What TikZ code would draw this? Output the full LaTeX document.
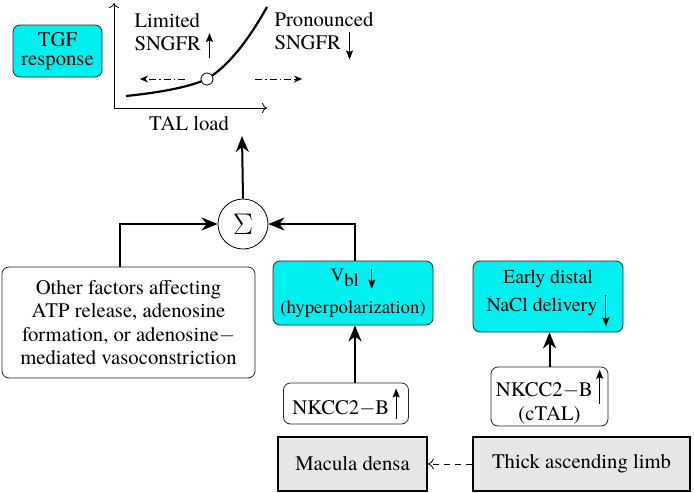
\documentclass[tikz,border=0pt]{standalone}
\usepackage{fontspec}
\usepackage{graphicx}
\IfFontExistsTF{texgyretermes-regular.otf}{\setmainfont{texgyretermes}[Extension=.otf,UprightFont=*-regular,BoldFont=*-bold,ItalicFont=*-italic,BoldItalicFont=*-bolditalic]}{}
\IfFontExistsTF{texgyretermes-math.otf}{\newfontfamily\sigmafont{texgyretermes-math.otf}\newcommand{\sumsign}{{\sigmafont Σ}}}{\newcommand{\sumsign}{\scalebox{1.2}{$\Sigma$}}}
\usetikzlibrary{arrows.meta}
\definecolor{cyanbox}{RGB}{0,240,240}
\definecolor{grayfill}{RGB}{230,230,230}
\newcommand{\garr}[2]{\tikz[baseline=0pt]\draw[line width=1pt,-{Stealth[length=9pt,width=7pt,inset=1.5pt]}] (0pt,#1) -- (0pt,#2);}
\newcommand{\mns}{\ensuremath{-}}
\begin{document}
\begin{tikzpicture}[x=1pt,y=-1pt,
  txt/.style={font=\fontsize{20.7}{23.3}\selectfont},
  stxt/.style={font=\fontsize{18.8}{23}\selectfont},
  etxt/.style={font=\fontsize{19.8}{23}\selectfont},
  cbox/.style={draw=black!85, line width=0.8pt, rounded corners=7pt, fill=cyanbox, align=center, inner sep=0pt},
  wbox/.style={txt, draw=black!85, line width=0.8pt, rounded corners=7pt, fill=white, align=center, inner sep=0pt},
  gbox/.style={txt, draw=black, line width=1.8pt, fill=grayfill, align=center, inner sep=0pt},
  conn/.style={line width=2pt, -{Stealth[length=16pt,width=13pt,inset=5pt]}},
  axis/.style={line width=0.8pt, -{To[length=5pt,width=10pt]}},
  dd/.style={line width=0.8pt, dash pattern=on 7pt off 3pt on 1.5pt off 3pt, -{Stealth[length=8pt,width=7pt]}},
]
\useasboundingbox (0,0) rectangle (694,493);

% TGF box
\node[cbox, txt, minimum width=89pt, minimum height=52pt] (tgf) at (57.5,51) {TGF\\[-4pt]response};

% graph
\coordinate (o) at (114,108);
\coordinate (ytop) at (114,3);
\coordinate (xend) at (267,108);
\draw[axis] (o) -- (ytop);
\draw[axis] (o) -- (xend);
\coordinate (c0) at (126,96);
\coordinate (c1) at (207,79);
\coordinate (c2) at (267,7);
\draw[line width=2.2pt] (c0) .. controls (165,92) and (192,86) .. (c1) .. controls (232,64) and (253,32) .. (c2);
\node[circle, draw, fill=white, minimum size=12pt, inner sep=0pt, line width=0.8pt] (pt) at (c1) {};
\coordinate (la) at (185,79);
\coordinate (lb) at (140,79);
\coordinate (ra) at (255,79);
\coordinate (rb) at (302,79);
\draw[dd] (la) -- (lb);
\draw[dd] (ra) -- (rb);
\node[txt, align=left, anchor=west] (lim) at (131,36) {Limited\\SNGFR \garr{-7pt}{18pt}};
\node[txt, align=left, anchor=west] (pro) at (271,36) {Pronounced\\SNGFR \garr{17pt}{-10pt}};
\node[txt] (talload) at (189,124) {TAL load};

% sum
\node[circle, draw, line width=0.8pt, minimum size=50pt, inner sep=0pt, font=\fontsize{30}{30}\selectfont] (sigma) at (243,224) {\sumsign};
\coordinate (gtip) at (242,136);

% boxes
\node[wbox, minimum width=253pt, minimum height=111pt] (other) at (128.5,322.5)
  {Other factors affecting\\ATP release, adenosine\\formation, or adenosine\mns\\mediated vasoconstriction};
\node[cbox, stxt, minimum width=160pt, minimum height=64pt] (vbl) at (353,293)
  {V\raisebox{-5pt}{bl}\ \ \garr{13pt}{-7pt}\\[9pt](hyperpolarization)};
\node[cbox, etxt, minimum width=150pt, minimum height=71pt] (early) at (548,296.5)
  {\rule{0pt}{17pt}Early distal\\[5pt]NaCl delivery \garr{16pt}{-15pt}};
\node[wbox, minimum width=117pt, minimum height=59pt] (nk2) at (549.5,396.5)
  {NKCC2\mns B\,\garr{-7pt}{27pt}\\(cTAL)};
\node[wbox, minimum width=125pt, minimum height=41pt] (nk1) at (346,403.5)
  {NKCC2\mns B\,\garr{-4pt}{26pt}};
\node[gbox, minimum width=149pt, minimum height=54pt] (md) at (352.5,464) {Macula densa};
\node[gbox, minimum width=217pt, minimum height=54pt] (tal) at (581.5,464) {Thick ascending limb};

% connectors
\draw[conn] (sigma.north) -- (gtip);
\draw[conn] ([xshift=-8.5pt]other.north) |- (sigma.west);
\draw[conn] ([xshift=2pt]vbl.north) |- (sigma.east);
\draw[conn] ([xshift=9pt]nk1.north) -- ([xshift=9pt]nk1.north |- vbl.south);
\draw[conn] (nk2.north) -- (nk2.north |- early.south);
\draw[line width=0.8pt, dash pattern=on 6pt off 5pt, -{To[length=6pt,width=11pt]}] (tal.west) -- (md.east);
\end{tikzpicture}
\end{document}
